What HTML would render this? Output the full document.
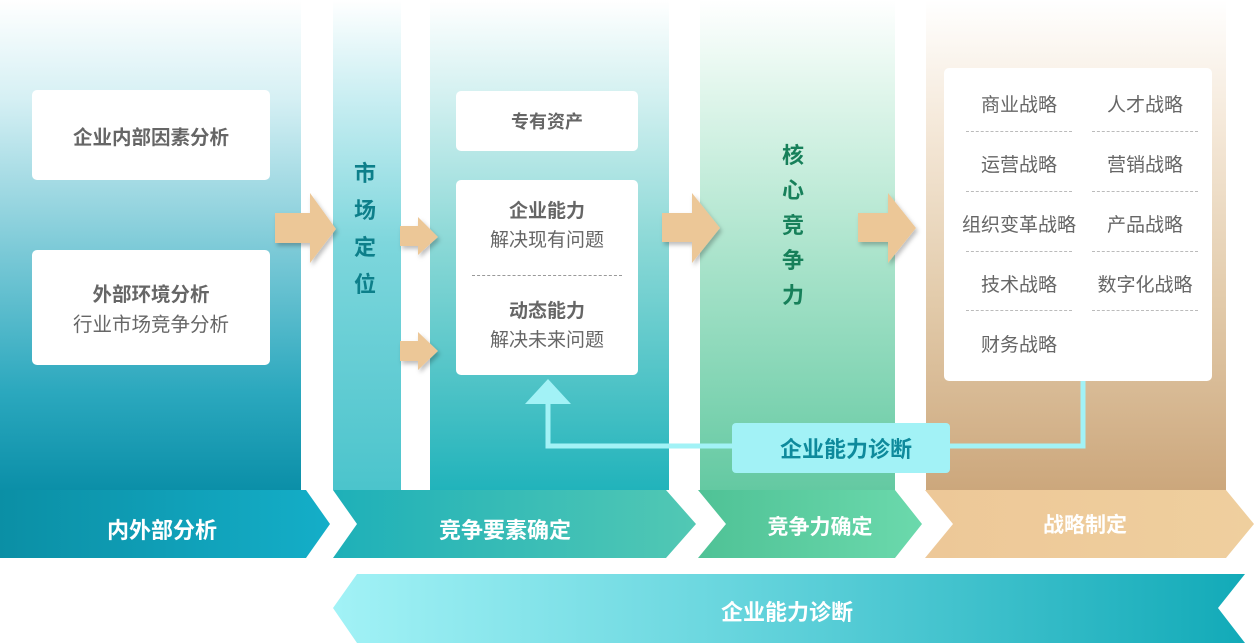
<!DOCTYPE html>
<html><head><meta charset="utf-8"><style>
body{margin:0;width:1255px;height:643px;overflow:hidden;background:#fff;font-family:"Liberation Sans","Noto Sans CJK SC",sans-serif;position:relative}
.a{position:absolute}
.box{position:absolute;background:#fff;border-radius:5px;text-align:center;color:#666}
.b{font-weight:bold;color:#666}
.st{position:absolute;font-size:19px;color:#666;text-align:center;width:130px}
.dl{position:absolute;width:106px;border-top:1px dashed #bbb}
</style></head><body>
<div class="a" style="left:0;top:0;width:301px;height:490px;background:linear-gradient(#fff 0%,#d6f0f4 20%,#7fcbd8 50%,#2ba8be 80%,#0b8fa8 100%)"></div>
<div class="a" style="left:333px;top:0;width:68px;height:490px;background:linear-gradient(#fff 0%,#c9eef2 20%,#7dd6dc 50%,#4bc4cc 100%)"></div>
<div class="a" style="left:430px;top:0;width:239px;height:490px;background:linear-gradient(#fff 0%,#d2f0f0 20%,#8ad8d6 50%,#21b3bb 100%)"></div>
<div class="a" style="left:700px;top:0;width:195px;height:490px;background:linear-gradient(#fff 0%,#def5ea 20%,#a6e2c9 55%,#64c9a2 100%)"></div>
<div class="a" style="left:926px;top:0;width:300px;height:490px;background:linear-gradient(#fff 0%,#f5e9da 25%,#e3ccac 60%,#cca77c 100%)"></div>

<div class="box b" style="left:32px;top:90px;width:238px;height:90px;line-height:96px;font-size:19.5px">企业内部因素分析</div>
<div class="box" style="left:32px;top:250px;width:238px;height:115px;font-size:19.5px;line-height:30px;padding-top:30px;box-sizing:border-box"><span class="b">外部环境分析</span><br>行业市场竞争分析</div>
<div class="a" style="left:350px;top:155px;width:30px;font-size:22px;font-weight:bold;color:#0d7f8a;line-height:37px;text-align:center">市<br>场<br>定<br>位</div>
<div class="box b" style="left:456px;top:91px;width:182px;height:60px;line-height:62px;font-size:18px">专有资产</div>
<div class="box" style="left:456px;top:180px;width:182px;height:195px;font-size:19px;line-height:29px">
<div style="padding-top:17px"><span class="b">企业能力</span><br>解决现有问题</div>
<div style="margin:20px 16px 21px 16px;border-top:1px dashed #999"></div>
<div><span class="b">动态能力</span><br>解决未来问题</div></div>
<div class="a" style="left:778px;top:138px;width:30px;font-size:22px;font-weight:bold;color:#17805a;line-height:35px;text-align:center">核<br>心<br>竞<br>争<br>力</div>

<div class="box" style="left:944px;top:68px;width:268px;height:313px"></div>
<div class="st" style="left:954px;top:90px">商业战略</div><div class="st" style="left:1080px;top:90px">人才战略</div>
<div class="dl" style="left:966px;top:131px"></div><div class="dl" style="left:1092px;top:131px"></div>
<div class="st" style="left:954px;top:150px">运营战略</div><div class="st" style="left:1080px;top:150px">营销战略</div>
<div class="dl" style="left:966px;top:191px"></div><div class="dl" style="left:1092px;top:191px"></div>
<div class="st" style="left:954px;top:210px">组织变革战略</div><div class="st" style="left:1080px;top:210px">产品战略</div>
<div class="dl" style="left:966px;top:251px"></div><div class="dl" style="left:1092px;top:251px"></div>
<div class="st" style="left:954px;top:270px">技术战略</div><div class="st" style="left:1080px;top:270px">数字化战略</div>
<div class="dl" style="left:966px;top:310px"></div><div class="dl" style="left:1092px;top:310px"></div>
<div class="st" style="left:954px;top:330px">财务战略</div>

<svg class="a" style="left:0;top:0" width="1255" height="643">
<defs>
<linearGradient id="c1"><stop offset="0" stop-color="#0b8fa5"/><stop offset="1" stop-color="#14aec8"/></linearGradient>
<linearGradient id="c2"><stop offset="0" stop-color="#1eb0b8"/><stop offset="1" stop-color="#52c8b4"/></linearGradient>
<linearGradient id="c3"><stop offset="0" stop-color="#4fc296"/><stop offset="1" stop-color="#6bd9ac"/></linearGradient>
<linearGradient id="c4"><stop offset="0" stop-color="#edc898"/><stop offset="1" stop-color="#efcf9e"/></linearGradient>
<linearGradient id="c5"><stop offset="0" stop-color="#a2f2f6"/><stop offset="0.4" stop-color="#6dd8e0"/><stop offset="1" stop-color="#12aab8"/></linearGradient>
<filter id="sh"><feDropShadow dx="2" dy="3" stdDeviation="2" flood-opacity="0.25"/></filter>
</defs>
<polygon points="0,490 306,490 330,524 306,558 0,558" fill="url(#c1)"/>
<polygon points="333,490 666,490 696,524 666,558 333,558 357,524" fill="url(#c2)"/>
<polygon points="698,490 895,490 922,524 895,558 698,558 726,524" fill="url(#c3)"/>
<polygon points="925,490 1226,490 1254,524 1226,558 925,558 953,524" fill="url(#c4)"/>
<polygon points="357,574 1245,574 1218,608 1245,643 357,643 333,608" fill="url(#c5)"/>
<g fill="#ecc797" filter="url(#sh)">
<polygon points="275,213 310,213 310,193 336,229 310,263 310,243 275,243"/>
<polygon points="400,226 418,226 418,217 438,237 418,255 418,246 400,246"/>
<polygon points="400,341 418,341 418,332 438,351 418,370 418,361 400,361"/>
<polygon points="662,213 692,213 692,193 720,228 692,263 692,242 662,242"/>
<polygon points="858,213 888,213 888,193 916,228 888,263 888,242 858,242"/>
</g>
<polyline points="1083,381 1083,446 548,446 548,400" fill="none" stroke="#a2f2f6" stroke-width="5"/>
<polygon points="548,379 571,404 525,404" fill="#a2f2f6"/>
<rect x="732" y="423" width="218" height="50" rx="4" fill="#a2f2f6"/>
<g font-family="Liberation Sans,Noto Sans CJK SC,sans-serif" font-weight="bold" text-anchor="middle">
<text x="846" y="457" font-size="22" fill="#0e8a9c">企业能力诊断</text>
<text x="162" y="538" font-size="22" fill="#fff">内外部分析</text>
<text x="505" y="538" font-size="22" fill="#fff">竞争要素确定</text>
<text x="820" y="534" font-size="21" fill="#fff">竞争力确定</text>
<text x="1085" y="532" font-size="21" fill="#fff">战略制定</text>
<text x="787" y="620" font-size="22" fill="#fff">企业能力诊断</text>
</g>
</svg>
</body></html>
